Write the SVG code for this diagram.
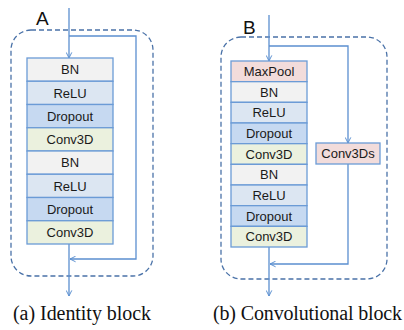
<svg xmlns="http://www.w3.org/2000/svg" width="404" height="330" viewBox="0 0 404 330">
<defs>
<marker id="arr" viewBox="0 0 10 10" refX="9" refY="5" markerWidth="7" markerHeight="7" orient="auto" markerUnits="userSpaceOnUse">
<path d="M1,1 L9,5 L1,9" fill="none" stroke="#5b8fd0" stroke-width="1.4"/>
</marker>
<style>
.frame{fill:none;stroke:#4a72a8;stroke-width:1.3;stroke-dasharray:5,3}
.cell{stroke:#6b9bd6;stroke-width:1.3}
.bn{fill:#f2f2f2}.relu{fill:#dce6f2}.drop{fill:#c6d9f1}.conv{fill:#ebf1de}.pool{fill:#f2dcdb}
.lbl{font-family:"Liberation Sans",Arial,sans-serif;font-size:13px;fill:#1a1a1a;text-anchor:middle}
.head{font-family:"Liberation Sans",Arial,sans-serif;font-size:19px;fill:#111}
.cap{font-family:"Liberation Serif","Times New Roman",serif;font-size:20px;fill:#111}
.wire{fill:none;stroke:#5b8fd0;stroke-width:1.3}
</style>
</defs>
<rect width="404" height="330" fill="#fff"/>

<g id="frameA"><rect class="frame" x="11" y="30" width="142" height="246" rx="20"/></g>
<text id="labelA" class="head" x="36" y="25">A</text>
<g id="frameB"><rect class="frame" x="221" y="37" width="166" height="242" rx="20"/></g>
<text id="labelB" class="head" x="243" y="34" font-size="16">B</text>

<g id="connectors">
<path class="wire" d="M69,8 V58" marker-end="url(#arr)"/>
<path class="wire" d="M69,36 H136 V259 H70" marker-end="url(#arr)"/>
<path class="wire" d="M69,244 V296" marker-end="url(#arr)"/>
<path class="wire" d="M269,15 V61" marker-end="url(#arr)"/>
<path class="wire" d="M269,46 H348 V143" marker-end="url(#arr)"/>
<path class="wire" d="M348,164 V264 H270" marker-end="url(#arr)"/>
<path class="wire" d="M269,247 V296" marker-end="url(#arr)"/>
</g>

<g id="A-BN1"><rect class="cell bn" x="27" y="58" width="86" height="23.25"/><text class="lbl" x="70" y="74.3">BN</text></g>
<g id="A-ReLU1"><rect class="cell relu" x="27" y="81.25" width="86" height="23.25"/><text class="lbl" x="70" y="97.6">ReLU</text></g>
<g id="A-Dropout1"><rect class="cell drop" x="27" y="104.5" width="86" height="23.25"/><text class="lbl" x="70" y="120.8">Dropout</text></g>
<g id="A-Conv3D1"><rect class="cell conv" x="27" y="127.75" width="86" height="23.25"/><text class="lbl" x="70" y="144.1">Conv3D</text></g>
<g id="A-BN2"><rect class="cell bn" x="27" y="151" width="86" height="23.25"/><text class="lbl" x="70" y="167.3">BN</text></g>
<g id="A-ReLU2"><rect class="cell relu" x="27" y="174.25" width="86" height="23.25"/><text class="lbl" x="70" y="190.6">ReLU</text></g>
<g id="A-Dropout2"><rect class="cell drop" x="27" y="197.5" width="86" height="23.25"/><text class="lbl" x="70" y="213.8">Dropout</text></g>
<g id="A-Conv3D2"><rect class="cell conv" x="27" y="220.75" width="86" height="23.25"/><text class="lbl" x="70" y="237.1">Conv3D</text></g>

<g id="B-MaxPool"><rect class="cell pool" x="231" y="61" width="76" height="20.67"/><text class="lbl" x="269" y="76">MaxPool</text></g>
<g id="B-BN1"><rect class="cell bn" x="231" y="81.67" width="76" height="20.67"/><text class="lbl" x="269" y="96.7">BN</text></g>
<g id="B-ReLU1"><rect class="cell relu" x="231" y="102.33" width="76" height="20.67"/><text class="lbl" x="269" y="117.4">ReLU</text></g>
<g id="B-Dropout1"><rect class="cell drop" x="231" y="123" width="76" height="20.67"/><text class="lbl" x="269" y="138">Dropout</text></g>
<g id="B-Conv3D1"><rect class="cell conv" x="231" y="143.67" width="76" height="20.67"/><text class="lbl" x="269" y="158.7">Conv3D</text></g>
<g id="B-BN2"><rect class="cell bn" x="231" y="164.33" width="76" height="20.67"/><text class="lbl" x="269" y="179.4">BN</text></g>
<g id="B-ReLU2"><rect class="cell relu" x="231" y="185" width="76" height="20.67"/><text class="lbl" x="269" y="200">ReLU</text></g>
<g id="B-Dropout2"><rect class="cell drop" x="231" y="205.67" width="76" height="20.67"/><text class="lbl" x="269" y="220.7">Dropout</text></g>
<g id="B-Conv3D2"><rect class="cell conv" x="231" y="226.33" width="76" height="20.67"/><text class="lbl" x="269" y="241.4">Conv3D</text></g>
<g id="B-Conv3Ds"><rect class="cell pool" x="316" y="143" width="64" height="21"/><text class="lbl" x="348" y="158">Conv3Ds</text></g>

<text id="capA" class="cap" x="13" y="320" textLength="138">(a) Identity block</text>
<text id="capB" class="cap" x="213" y="320" textLength="189">(b) Convolutional block</text>
</svg>
